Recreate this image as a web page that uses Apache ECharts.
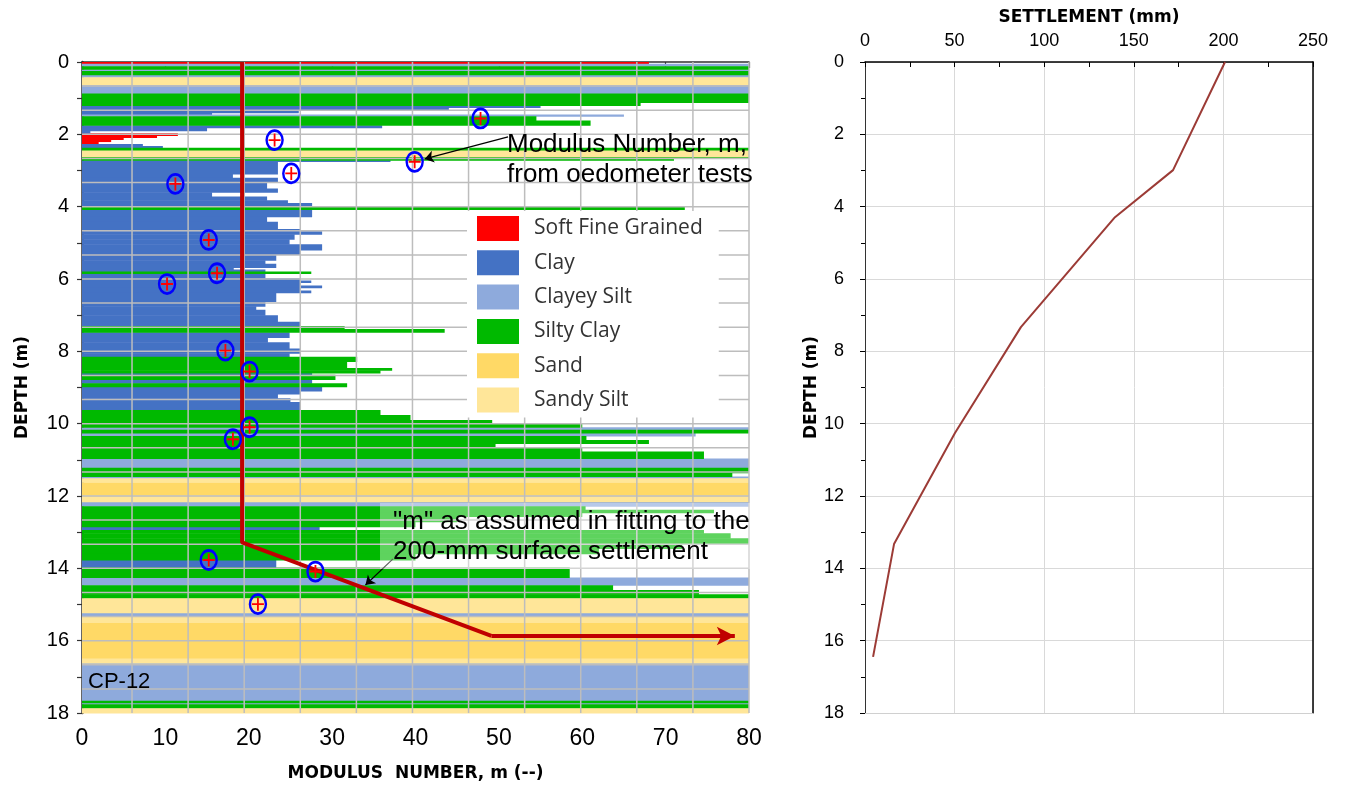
<!DOCTYPE html>
<html><head><meta charset="utf-8">
<script src="https://cdn.jsdelivr.net/npm/echarts@6/dist/echarts.min.js"></script>
<style>html,body{margin:0;padding:0;background:#fff}#c{width:1346px;height:789px}</style>
</head><body><div id="c"></div>
<script>
// ---------- DATA ----------
const soilNames = ['Soft Fine Grained', 'Clay', 'Clayey Silt', 'Silty Clay', 'Sand', 'Sandy Silt'];
const soilColors = ['#ff0000', '#4472c4', '#8eaadc', '#00b900', '#ffd966', '#ffe699'];

// CPT soil profile: top depth of each slice (m), modulus number m, soil index
const layerTop = [0.00,0.05,0.12,0.20,0.25,0.35,0.42,0.63,0.87,1.12,1.20,1.26,1.33,1.40,1.45,1.50,1.62,1.75,1.82,1.90,
  1.97,2.03,2.09,2.14,2.20,2.27,2.32,2.37,2.45,2.62,2.67,2.72,2.75,3.10,3.20,3.33,3.50,3.60,3.72,3.82,
  3.90,3.99,4.08,4.28,4.42,4.62,4.68,4.76,4.90,5.04,5.20,5.32,5.48,5.58,5.68,5.74,5.79,5.85,5.98,6.04,
  6.10,6.18,6.24,6.32,6.38,6.62,6.75,6.85,7.00,7.18,7.30,7.38,7.47,7.62,7.75,7.92,8.05,8.15,8.28,8.46,
  8.52,8.60,8.65,8.78,8.88,8.98,9.10,9.18,9.30,9.40,9.62,9.76,9.90,10.00,10.10,10.17,10.26,10.34,10.45,10.55,
  10.65,10.77,10.96,11.22,11.36,11.46,11.51,11.62,11.98,12.16,12.28,12.38,12.46,12.57,12.71,12.85,12.94,13.03,13.17,13.31,
  13.45,13.60,13.77,13.98,14.25,14.47,14.60,14.72,14.83,15.23,15.32,15.50,16.49,16.62,17.66,17.72,17.76,17.87];
const layerM = [68,85,85,85,85,85,85,85,85,67,55,44,26,15.6,65,54.5,61,36,15,1,
  11.5,9,5,3.5,2,7.3,9.7,85,85,85,71,37,23.5,18.1,23.5,22.2,23.5,15.6,22.2,24.7,
  27.6,72.3,27.6,22.2,23.5,26.2,28.8,25.5,24.9,28.8,26.2,23.3,22.0,23.3,18.2,22.0,27.5,22.0,26.2,27.5,
  26.2,28.8,26.2,27.5,23.3,22.0,20.9,22.0,23.5,26.2,31.5,43.5,24.9,22.3,24.9,26.2,24.9,33,31.8,37.2,
  35.8,27.6,30.4,27.6,31.8,28.8,26.2,23.5,25,26.2,35.8,39.4,49.2,60,85,85,73.6,60.5,68,49.6,
  60,74.6,85,85,78,85,85,85,85,85,60.4,75.8,60,45,40,28.5,74.6,77.8,85,72,
  62,40,23.3,58.5,85,63.7,74,85,85,85,85,85,85,85,85,85,85,85];
const layerSoil = [0,2,3,2,3,2,5,2,3,3,1,1,1,1,2,3,3,1,1,1,
  0,0,0,0,0,1,1,3,5,3,3,1,1,1,1,1,1,1,1,1,
  1,3,1,1,1,1,1,1,1,1,1,1,1,1,1,1,3,1,1,1,
  1,1,1,1,1,1,1,1,1,1,3,3,1,1,1,1,1,3,3,3,
  3,1,3,1,3,1,1,1,1,1,3,3,3,3,2,3,2,3,3,3,
  3,3,2,3,3,2,5,4,5,2,3,3,3,3,3,1,3,3,3,3,
  3,3,1,3,2,3,3,3,5,2,5,4,5,2,3,2,3,5];
const profileBottom = 18;

// Oedometer test modulus numbers
const oedoM = [47.8, 23.1, 39.9, 25.1, 11.2, 15.2, 16.2, 10.2, 17.2, 20.1, 20.1, 18.1, 15.2, 28.0, 21.1];
const oedoDepth = [1.56, 2.16, 2.76, 3.08, 3.37, 4.92, 5.84, 6.14, 7.98, 8.56, 10.10, 10.43, 13.77, 14.09, 14.99];

// "m" as assumed in the fit
const assumedM = [19.2, 19.2, 49.1];
const assumedDepth = [0, 13.28, 15.87];
const assumedArrowEndM = 78.3;

// Settlement profile
const settlementMM = [200.9, 171.9, 139.5, 87.0, 50.2, 16.2, 4.5];
const settlementDepth = [0, 2.99, 4.29, 7.33, 10.26, 13.33, 16.45];

// tick labels
const modulusTicks = [0, 10, 20, 30, 40, 50, 60, 70, 80];
const depthTicks = [0, 2, 4, 6, 8, 10, 12, 14, 16, 18];
const settlementTicks = [0, 50, 100, 150, 200, 250];

// ---------- BUILD ----------
const M_MAX = 80, DEPTH_MAX = 18;
const FONT = 'Liberation Sans, Arial, sans-serif';
const TITLE_FONT = 'DejaVu Sans, Verdana, sans-serif';
const gridStartM = 6.0, gridStepM = (80 - 6.0) / 11, gridStepDepth = 18 / 27;

function layerData(soil) {
  const out = [];
  for (let i = 0; i < layerTop.length; i++) {
    if (layerSoil[i] !== soil) continue;
    const bot = i + 1 < layerTop.length ? layerTop[i + 1] : profileBottom;
    out.push([layerTop[i], bot, layerM[i]]);
  }
  return out;
}
function barRenderer(color) {
  return function (params, api) {
    const p0 = api.coord([0, api.value(0)]);
    const p1 = api.coord([Math.min(api.value(2), M_MAX), api.value(1)]);
    return { type: 'rect', shape: { x: p0[0], y: p0[1], width: p1[0] - p0[0], height: p1[1] - p0[1] + 0.5 },
      style: { fill: color } };
  };
}
const gridLineData = [];
for (let k = 0; k <= 11; k++) gridLineData.push([0, gridStartM + k * gridStepM]);
for (let k = 1; k <= 26; k++) gridLineData.push([1, k * gridStepDepth]);

const barSeries = soilNames.map((name, s) => ({
  name: name, type: 'custom', xAxisIndex: 0, yAxisIndex: 0,
  renderItem: barRenderer(soilColors[s]), itemStyle: { color: soilColors[s] },
  encode: { x: 2, y: [0, 1] }, data: layerData(s), z: 2, silent: true, animation: false
}));
const titleStyle = { fontSize: 17, fontWeight: 'bold', color: '#000', fontFamily: TITLE_FONT };

const chart = echarts.init(document.getElementById('c'));
const option = {
  animation: false,
  backgroundColor: '#fff',
  grid: [
    { left: 82, top: 62, width: 667, height: 651 },
    { left: 865, top: 62, width: 448, height: 651 }
  ],
  xAxis: [
    { gridIndex: 0, type: 'value', min: 0, max: 80, interval: 10, position: 'bottom',
      axisLine: { show: false }, axisTick: { show: true, length: 6, lineStyle: { color: '#333', width: 1.2 } },
      axisLabel: { fontSize: 23, color: '#000', fontFamily: FONT, margin: 14,
        formatter: v => modulusTicks.includes(v) ? String(v) : '' },
      splitLine: { show: false },
      name: 'MODULUS  NUMBER, m (--)', nameLocation: 'middle', nameGap: 52, nameTextStyle: titleStyle },
    { gridIndex: 0, type: 'value', min: 0, max: 80, position: 'top',
      axisLine: { show: true, onZero: false, lineStyle: { color: '#333', width: 1.5 } },
      axisTick: { show: false }, axisLabel: { show: false }, splitLine: { show: false } },
    { gridIndex: 1, type: 'value', min: 0, max: 250, interval: 50, position: 'top',
      axisLine: { show: true, onZero: false, lineStyle: { color: '#000', width: 1.5 } },
      axisTick: { show: true, inside: true, length: 5, lineStyle: { color: '#000' } },
      minorTick: { show: true, splitNumber: 2, length: 5, lineStyle: { color: '#000' } },
      axisLabel: { fontSize: 18, color: '#000', fontFamily: FONT, margin: 12,
        formatter: v => settlementTicks.includes(v) ? String(v) : '' },
      splitLine: { show: true, lineStyle: { color: '#d9d9d9', width: 1 } },
      name: 'SETTLEMENT (mm)', nameLocation: 'middle', nameGap: 36, nameTextStyle: titleStyle },
    { gridIndex: 1, type: 'value', min: 0, max: 250, position: 'bottom',
      axisLine: { show: true, onZero: false, lineStyle: { color: '#d0d0d0', width: 1 } },
      axisTick: { show: false }, axisLabel: { show: false }, splitLine: { show: false } }
  ],
  yAxis: [
    { gridIndex: 0, type: 'value', inverse: true, min: 0, max: 18, interval: 2,
      axisLine: { show: true, onZero: false, lineStyle: { color: '#333', width: 2.5 } },
      axisTick: { show: true, length: 5, lineStyle: { color: '#333', width: 1.2 } },
      minorTick: { show: true, splitNumber: 2, length: 5, lineStyle: { color: '#333', width: 1.2 } },
      axisLabel: { fontSize: 20, color: '#000', fontFamily: FONT, margin: 13,
        formatter: v => depthTicks.includes(v) ? String(v) : '' },
      splitLine: { show: false },
      name: 'DEPTH (m)', nameLocation: 'middle', nameGap: 51, nameRotate: 90, nameTextStyle: titleStyle },
    { gridIndex: 1, type: 'value', inverse: true, min: 0, max: 18, interval: 2,
      axisLine: { show: true, onZero: false, lineStyle: { color: '#333', width: 1 } },
      axisTick: { show: true, length: 5, lineStyle: { color: '#000' } },
      minorTick: { show: true, splitNumber: 2, length: 4, lineStyle: { color: '#000' } },
      axisLabel: { fontSize: 18, color: '#000', fontFamily: FONT, margin: 21,
        formatter: v => depthTicks.includes(v) ? String(v) : '' },
      splitLine: { show: true, lineStyle: { color: '#d9d9d9', width: 1 } },
      name: 'DEPTH (m)', nameLocation: 'middle', nameGap: 44, nameRotate: 90, nameTextStyle: titleStyle },
    { gridIndex: 1, type: 'value', inverse: true, min: 0, max: 18, position: 'right',
      axisLine: { show: true, onZero: false, lineStyle: { color: '#000', width: 1.5 } },
      axisTick: { show: false }, axisLabel: { show: false }, splitLine: { show: false } }
  ],
  legend: {
    data: soilNames, orient: 'vertical', left: 467, top: 211, z: 10,
    backgroundColor: '#fff', padding: [5, 16, 5, 10],
    itemWidth: 42, itemHeight: 25, itemGap: 9.3, icon: 'rect', selectedMode: false,
    textStyle: { fontFamily: 'Open Sans', fontSize: 21, color: '#333', padding: [0, 0, 0, 10] }
  },
  graphic: [
    { type: 'text', x: 507, y: 130, z: 30, silent: true,
      style: { text: 'Modulus Number, m,\nfrom oedometer tests', fontSize: 26, lineHeight: 30,
        fontFamily: FONT, fill: '#000' } },
    { type: 'rect', x: 380, y: 503, z: 25, silent: true,
      shape: { width: 372, height: 66 }, style: { fill: 'rgba(255,255,255,0.37)' } },
    { type: 'text', x: 393, y: 507, z: 30, silent: true,
      style: { text: '"m" as assumed in fitting to the\n200-mm surface settlement', fontSize: 26, lineHeight: 30,
        fontFamily: FONT, fill: '#000' } },
    { type: 'text', x: 88, y: 671, z: 30, silent: true,
      style: { text: 'CP-12', fontSize: 22, fontFamily: FONT, fill: '#000' } }
  ],
  series: barSeries.concat([
    { name: 'grid', type: 'custom', xAxisIndex: 0, yAxisIndex: 0, z: 3, silent: true,
      encode: { x: 1, y: 1 }, data: gridLineData,
      renderItem: function (params, api) {
        const kind = api.value(0), v = api.value(1);
        let a, b;
        if (kind === 0) { a = api.coord([v, 0]); b = api.coord([v, DEPTH_MAX]); }
        else { a = api.coord([0, v]); b = api.coord([M_MAX, v]); }
        return { type: 'line', shape: { x1: a[0], y1: a[1], x2: b[0], y2: b[1] },
          style: { stroke: '#bdbdbd', lineWidth: 1.5 } };
      } },
    { name: 'assumed', type: 'line', xAxisIndex: 0, yAxisIndex: 0, z: 6, silent: true,
      symbol: 'none', lineStyle: { color: '#c00000', width: 4 },
      data: assumedM.map((m, i) => [m, assumedDepth[i]]),
      markLine: { silent: true, symbol: ['none', 'arrow'], symbolSize: [14, 18],
        lineStyle: { color: '#c00000', width: 4, type: 'solid' }, label: { show: false },
        data: [[{ coord: [assumedM[2], assumedDepth[2]] }, { coord: [assumedArrowEndM, assumedDepth[2]] }]] } },
    { name: 'oedometer', type: 'scatter', xAxisIndex: 0, yAxisIndex: 0, z: 8, silent: true,
      symbol: 'circle', symbolSize: [16, 19],
      itemStyle: { color: 'rgba(0,0,0,0)', borderColor: '#0000ff', borderWidth: 2.6, opacity: 1 },
      data: oedoM.map((m, i) => [m, oedoDepth[i]]),
      markLine: { silent: true, symbol: ['none', 'arrow'], symbolSize: 9,
        lineStyle: { color: '#000', width: 1.2, type: 'solid' }, label: { show: false },
        data: [
          [{ coord: [51.1, 2.07] }, { coord: [41.1, 2.68] }],
          [{ coord: [37.3, 13.74] }, { coord: [34.0, 14.46] }]
        ] } },
    { name: 'oedometerCross', type: 'scatter', xAxisIndex: 0, yAxisIndex: 0, z: 9, silent: true,
      symbol: 'path://M8.5,0h3v20h-3zM0,8.5h20v3h-20z', symbolSize: [12, 13],
      itemStyle: { color: '#ff0000', opacity: 1 },
      data: oedoM.map((m, i) => [m, oedoDepth[i]]) },
    { name: 'settlement', type: 'line', xAxisIndex: 2, yAxisIndex: 1, z: 5, silent: true,
      symbol: 'none', lineStyle: { color: '#9c3b36', width: 2 },
      data: settlementMM.map((s, i) => [s, settlementDepth[i]]) }
  ])
};
chart.setOption(option);
</script>
</body></html>
